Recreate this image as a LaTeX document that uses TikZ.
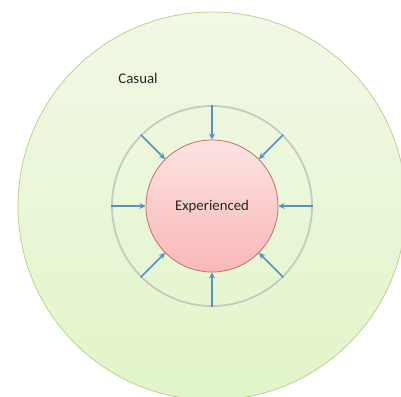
\documentclass[tikz,border=0pt]{standalone}
\usepackage{fontspec}
\setmainfont{Carlito}
\usetikzlibrary{arrows.meta}
\definecolor{outerline}{HTML}{B9D38F}
\definecolor{outertop}{HTML}{F1F8E6}
\definecolor{outerbot}{HTML}{E2F5C9}
\definecolor{innerline}{HTML}{C0504D}
\definecolor{innertop}{HTML}{FDE3E3}
\definecolor{innerbot}{HTML}{F9B8B8}
\definecolor{ringline}{HTML}{C6CBC0}
\definecolor{arrowblue}{HTML}{5B8FC2}
\tikzset{
  zone/.style={circle, inner sep=0pt},
  inflow/.style={draw=arrowblue, line width=1.6pt, -{Stealth[length=6pt,width=6pt]}},
  lbl/.style={font=\fontsize{14.8}{17}\selectfont, text=black!85}
}
\begin{document}
\begin{tikzpicture}[x=1pt,y=-1pt]
\useasboundingbox (0,0) rectangle (401,396);
\fill[white] (0,0) rectangle (401,396);
\node[zone, minimum size=388pt, draw=outerline, line width=0.8pt, top color=outertop, bottom color=outerbot] (outer) at (212,206) {};
\node[zone, minimum size=200pt, draw=ringline, line width=1.8pt] (ring) at (212,206) {};
\node[zone, minimum size=132pt, draw=innerline!85, line width=0.8pt, top color=innertop, bottom color=innerbot] (inner) at (212,206) {};
\node[lbl] (exp) at (212,207) {Experienced};
\node[lbl] (cas) at (138,78) {Casual};
\foreach \a in {0,45,...,315}{
  \draw[inflow] (ring.\a) -- (inner.\a);
}
\end{tikzpicture}
\end{document}
